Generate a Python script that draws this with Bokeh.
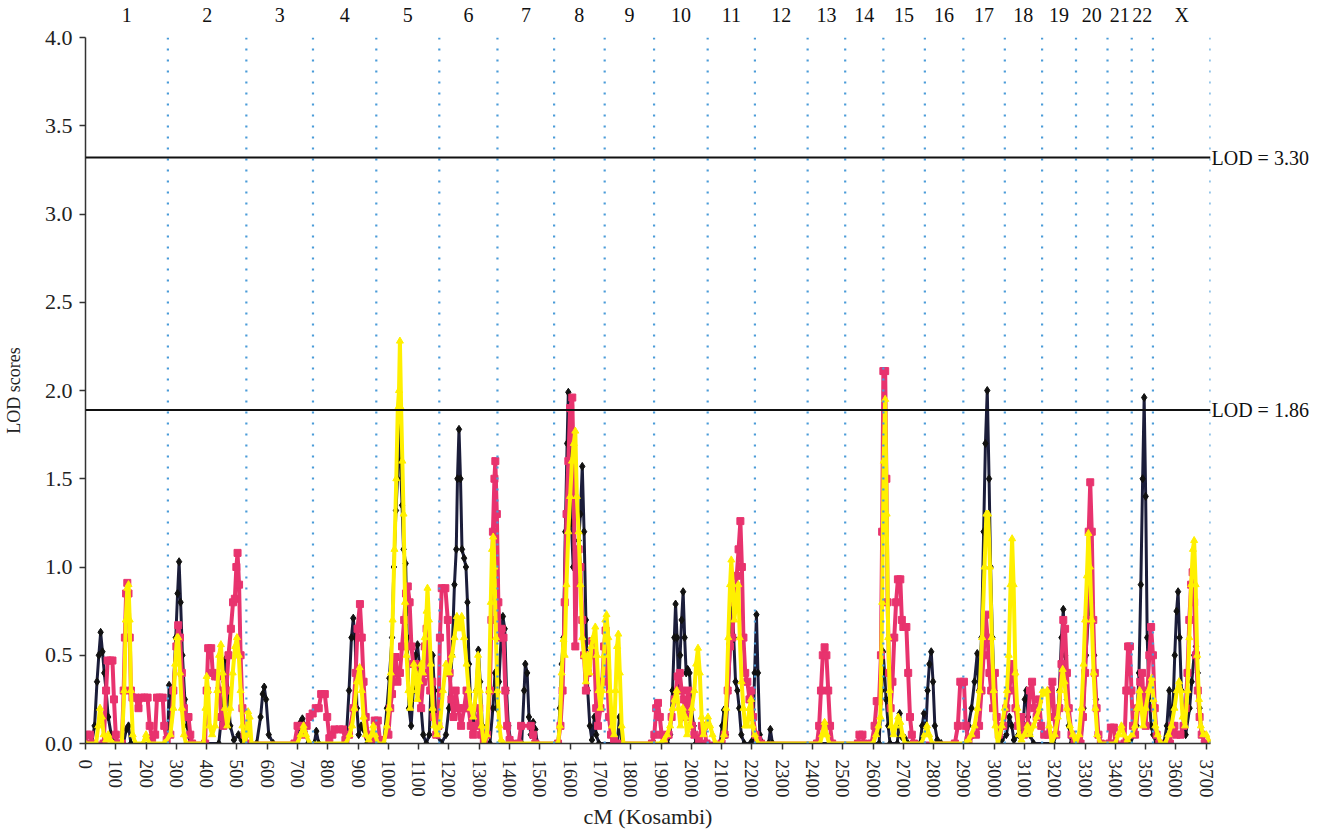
from bokeh.plotting import figure
from bokeh.models import Span, LinearAxis, FixedTicker, NumeralTickFormatter, Range1d
from bokeh.embed import file_html
from bokeh.resources import INLINE

# ---------------- data ----------------
chrom_names = ["1", "2", "3", "4", "5", "6", "7", "8", "9", "10", "11", "12",
               "13", "14", "15", "16", "17", "18", "19", "20", "21", "22", "X"]
chrom_ends = [272, 531, 751, 960, 1168, 1360, 1547, 1714, 1877, 2054, 2210, 2384,
              2508, 2634, 2771, 2898, 3035, 3158, 3270, 3374, 3454, 3524, 3714]

threshold_values = [3.32, 1.89]
threshold_labels = ["LOD = 3.30", "LOD = 1.86"]

x_ticks = list(range(0, 3800, 100))
y_ticks = [0.0, 0.5, 1.0, 1.5, 2.0, 2.5, 3.0, 3.5, 4.0]

black_points = [
    (0, 0), (20, 0), (30, 0.1), (38, 0.35), (44, 0.5), (50, 0.63), (56, 0.52), (62, 0.4), (68, 0.3),
    (75, 0.15), (85, 0.05), (95, 0), (125, 0), (135, 0.08), (142, 0.1), (150, 0), (265, 0),
    (272, 0.05), (276, 0.33), (282, 0.15), (290, 0.3), (298, 0.6), (304, 0.85), (309, 1.03), (314, 0.8),
    (320, 0.5), (328, 0.25), (336, 0.1), (345, 0), (440, 0), (452, 0.2), (458, 0.35), (463, 0.48),
    (470, 0.3), (478, 0.1), (490, 0.02), (505, 0.05), (515, 0.02), (530, 0),
    (565, 0), (578, 0.15), (585, 0.28), (590, 0.32), (596, 0.25), (605, 0.05), (620, 0), (700, 0),
    (710, 0.12), (716, 0.14), (724, 0.1), (735, 0), (755, 0), (762, 0.07), (770, 0),
    (860, 0), (870, 0.3), (878, 0.6), (884, 0.71), (890, 0.6), (896, 0.2), (902, 0.05), (910, 0.1),
    (918, 0.08), (930, 0),
    (985, 0), (995, 0.2), (1003, 0.37), (1012, 0.6), (1018, 1.0), (1025, 1.32), (1030, 1.5), (1035, 1.9),
    (1040, 1.6), (1045, 1.35), (1050, 1.1), (1057, 1.02), (1062, 0.6), (1068, 0.2), (1075, 0.1),
    (1082, 0.3), (1090, 0.5), (1096, 0.56), (1102, 0.45), (1108, 0.2), (1115, 0.05), (1125, 0),
    (1135, 0.05), (1140, 0.3), (1146, 0.5), (1152, 0.3), (1160, 0.05), (1175, 0),
    (1190, 0.05), (1200, 0.2), (1210, 0.5), (1218, 0.9), (1224, 1.1), (1228, 1.5), (1233, 1.78),
    (1238, 1.5), (1243, 1.1), (1250, 1.05), (1256, 1.0), (1261, 0.8), (1266, 0.45), (1272, 0.2),
    (1280, 0.1), (1290, 0.3), (1297, 0.53), (1303, 0.35), (1310, 0.1), (1320, 0), (1335, 0),
    (1345, 0.2), (1352, 0.4), (1358, 0.2), (1365, 0.35), (1372, 0.6), (1378, 0.72), (1384, 0.65),
    (1390, 0.3), (1396, 0.1), (1405, 0),
    (1440, 0), (1448, 0.3), (1452, 0.45), (1458, 0.4), (1464, 0.15), (1470, 0.05), (1478, 0.12),
    (1485, 0.08), (1492, 0),
    (1560, 0), (1566, 0.2), (1572, 0.45), (1578, 0.6), (1584, 1.2), (1590, 1.7), (1594, 1.99),
    (1599, 1.6), (1604, 1.25), (1610, 1.0), (1616, 1.1), (1622, 0.9), (1628, 1.15), (1634, 1.3),
    (1640, 1.57), (1646, 1.2), (1652, 0.7), (1658, 0.3), (1665, 0.1), (1672, 0.02), (1680, 0.15),
    (1686, 0.05), (1695, 0), (1755, 0), (1763, 0.15), (1770, 0),
    (1920, 0), (1930, 0.05), (1938, 0.3), (1944, 0.6), (1948, 0.79), (1953, 0.6), (1958, 0.3),
    (1963, 0.5), (1968, 0.7), (1973, 0.86), (1978, 0.6), (1983, 0.4), (1988, 0.42), (1994, 0.4),
    (2000, 0.2), (2008, 0.1), (2015, 0),
    (2095, 0), (2102, 0.1), (2108, 0.19), (2114, 0.05), (2122, 0.3), (2130, 0.6), (2135, 0.78),
    (2140, 0.6), (2146, 0.35), (2152, 0.3), (2158, 0.2), (2165, 0.05), (2175, 0), (2195, 0),
    (2203, 0.02), (2209, 0.4), (2215, 0.73), (2220, 0.4), (2226, 0.05), (2235, 0), (2255, 0),
    (2261, 0.08), (2268, 0),
    (2620, 0), (2628, 0.3), (2633, 0.52), (2638, 0.4), (2643, 0.25), (2650, 0.1), (2656, 0),
    (2680, 0), (2688, 0.17), (2694, 0.04), (2705, 0.03), (2715, 0),
    (2755, 0), (2762, 0.1), (2768, 0.17), (2775, 0.1), (2780, 0.3), (2786, 0.45), (2792, 0.52),
    (2798, 0.35), (2804, 0.1), (2812, 0.02), (2825, 0),
    (2905, 0), (2915, 0.1), (2925, 0.2), (2935, 0.35), (2944, 0.51), (2950, 0.3), (2958, 0.6),
    (2965, 1.2), (2971, 1.7), (2977, 2.0), (2983, 1.5), (2988, 1.0), (2994, 0.6), (3000, 0.3),
    (3006, 0.15), (3015, 0.05), (3025, 0.02), (3040, 0.05), (3050, 0.15), (3058, 0.1), (3065, 0.02),
    (3080, 0.05), (3095, 0.1), (3101, 0.25), (3106, 0.3), (3112, 0.15), (3118, 0.05), (3130, 0),
    (3195, 0), (3205, 0.05), (3215, 0.3), (3222, 0.6), (3228, 0.76), (3234, 0.5), (3240, 0.25),
    (3246, 0.1), (3255, 0), (3285, 0), (3295, 0.2), (3303, 0.5), (3310, 0.7), (3318, 0.95),
    (3324, 0.7), (3330, 0.5), (3336, 0.25), (3342, 0.05), (3350, 0),
    (3450, 0), (3460, 0.05), (3470, 0.1), (3478, 0.4), (3484, 0.9), (3490, 1.5), (3495, 1.96),
    (3500, 1.4), (3505, 0.6), (3511, 0.3), (3518, 0.1), (3525, 0.05), (3535, 0),
    (3560, 0), (3570, 0.1), (3578, 0.3), (3584, 0.1), (3590, 0.2), (3596, 0.5), (3602, 0.75),
    (3607, 0.86), (3612, 0.6), (3618, 0.3), (3625, 0.1), (3632, 0.05), (3645, 0.2), (3652, 0.35),
    (3660, 0.5), (3666, 0.55), (3672, 0.4), (3678, 0.2), (3685, 0.05), (3695, 0),
]

pink_points = [
    (0, 0), (5, 0.05), (15, 0.05), (22, 0), (60, 0), (68, 0.3), (73, 0.47), (82, 0.47), (89, 0.47),
    (94, 0.25), (100, 0.05), (105, 0), (120, 0), (126, 0.3), (130, 0.6), (134, 0.85), (138, 0.91),
    (142, 0.85), (146, 0.6), (150, 0.3), (155, 0.26), (165, 0.26), (175, 0.2), (185, 0.26), (195, 0.26),
    (205, 0.26), (212, 0.1), (220, 0.03), (230, 0.05), (236, 0.26), (245, 0.26), (255, 0.26), (260, 0.1),
    (268, 0.02),
    (280, 0.05), (290, 0.3), (300, 0.55), (306, 0.67), (312, 0.6), (318, 0.4), (325, 0.2), (332, 0.15),
    (340, 0.15), (346, 0.05), (352, 0), (395, 0), (400, 0.3), (405, 0.54), (415, 0.54), (420, 0.4),
    (428, 0.38), (436, 0.38), (442, 0.3), (448, 0.15), (455, 0.1), (465, 0.3), (472, 0.5), (480, 0.65),
    (487, 0.8), (493, 0.82), (498, 1.0), (502, 1.08), (507, 0.9), (512, 0.5), (518, 0.2), (525, 0.05),
    (532, 0),
    (690, 0), (700, 0.1), (712, 0.1), (720, 0.05), (730, 0.1), (740, 0.15), (750, 0.17), (760, 0.2),
    (770, 0.2), (778, 0.28), (790, 0.28), (798, 0.15), (805, 0.03), (815, 0.05), (822, 0.08), (838, 0.08),
    (850, 0.08), (858, 0.02), (870, 0.05), (885, 0.2), (892, 0.4), (898, 0.65), (906, 0.79), (912, 0.6),
    (918, 0.35), (925, 0.15), (932, 0.05), (945, 0.02), (955, 0.13), (965, 0.13), (972, 0.02),
    (1000, 0.05), (1006, 0.2), (1012, 0.28), (1018, 0.45), (1024, 0.49), (1030, 0.35), (1038, 0.4),
    (1045, 0.55), (1052, 0.7), (1058, 0.85), (1064, 0.89), (1070, 0.8), (1076, 0.55), (1082, 0.45),
    (1090, 0.45), (1096, 0.35), (1102, 0.3), (1108, 0.2), (1114, 0.35), (1120, 0.55), (1126, 0.65),
    (1132, 0.4), (1138, 0.3), (1145, 0.35), (1150, 0.15), (1158, 0.05),
    (1165, 0.1), (1170, 0.6), (1176, 0.88), (1188, 0.88), (1196, 0.7), (1202, 0.4), (1208, 0.25),
    (1215, 0.15), (1222, 0.3), (1230, 0.2), (1240, 0.1), (1250, 0.2), (1258, 0.3), (1265, 0.2),
    (1272, 0.1), (1280, 0.05), (1290, 0.1), (1300, 0.2), (1306, 0.05), (1315, 0.02), (1325, 0.05),
    (1335, 0.3), (1340, 0.7), (1345, 1.2), (1350, 1.5), (1353, 1.6), (1358, 1.3), (1363, 0.8),
    (1368, 0.6), (1374, 0.65), (1380, 0.6), (1386, 0.3), (1392, 0.1), (1400, 0.02), (1430, 0),
    (1438, 0.1), (1470, 0.1), (1478, 0.05), (1485, 0),
    (1560, 0), (1568, 0.1), (1575, 0.3), (1582, 0.8), (1588, 1.3), (1594, 1.6), (1600, 1.9),
    (1607, 1.96), (1612, 1.5), (1617, 0.55), (1622, 1.0), (1628, 1.1), (1634, 1.0), (1640, 0.7),
    (1646, 0.5), (1652, 0.3), (1658, 0.4), (1665, 0.5), (1673, 0.58), (1680, 0.5), (1686, 0.2),
    (1692, 0.1), (1700, 0.2), (1706, 0.35), (1712, 0.55), (1717, 0.64), (1722, 0.4), (1728, 0.15),
    (1735, 0.05), (1745, 0.02), (1755, 0),
    (1870, 0), (1878, 0.05), (1884, 0.2), (1890, 0.23), (1896, 0.15), (1902, 0.05), (1910, 0),
    (1925, 0.05), (1935, 0.15), (1945, 0.25), (1955, 0.38), (1962, 0.4), (1968, 0.3), (1975, 0.25),
    (1982, 0.15), (1990, 0.3), (1996, 0.2), (2002, 0.1), (2010, 0.05), (2025, 0.02), (2035, 0.1),
    (2042, 0.1), (2050, 0),
    (2100, 0), (2110, 0.05), (2120, 0.3), (2128, 0.55), (2135, 0.6), (2142, 0.8), (2150, 0.95),
    (2156, 1.1), (2162, 1.26), (2167, 1.0), (2172, 0.6), (2178, 0.4), (2185, 0.35), (2192, 0.25),
    (2198, 0.3), (2204, 0.15), (2212, 0.05), (2220, 0.02), (2230, 0),
    (2415, 0), (2422, 0.1), (2428, 0.3), (2434, 0.5), (2440, 0.545), (2446, 0.5), (2452, 0.3),
    (2458, 0.1), (2465, 0), (2550, 0), (2555, 0.05), (2565, 0.05), (2570, 0),
    (2595, 0), (2605, 0.1), (2612, 0.24), (2620, 0.24), (2626, 0.5), (2630, 1.2), (2634, 2.11),
    (2640, 2.11), (2644, 1.5), (2648, 0.8), (2653, 0.4), (2658, 0.2), (2664, 0.35), (2670, 0.6),
    (2676, 0.8), (2682, 0.93), (2690, 0.93), (2695, 0.7), (2700, 0.66), (2710, 0.66), (2716, 0.4),
    (2722, 0.15), (2728, 0.05), (2735, 0),
    (2870, 0), (2880, 0.1), (2888, 0.35), (2900, 0.35), (2906, 0.1), (2915, 0.02), (2940, 0.05),
    (2950, 0.1), (2958, 0.3), (2965, 0.5), (2972, 0.73), (2978, 0.6), (2984, 0.4), (2990, 0.3),
    (2996, 0.2), (3002, 0.4), (3008, 0.15), (3015, 0.05), (3030, 0.1), (3040, 0.2), (3050, 0.3),
    (3058, 0.45), (3064, 0.4), (3070, 0.2), (3078, 0.1), (3090, 0.15), (3098, 0.05), (3110, 0.1),
    (3118, 0.3), (3125, 0.35), (3132, 0.2), (3140, 0.15), (3148, 0.25), (3155, 0.1), (3165, 0.05),
    (3178, 0.05), (3186, 0.3), (3192, 0.35), (3198, 0.15), (3205, 0.05), (3215, 0.2), (3222, 0.45),
    (3228, 0.7), (3234, 0.65), (3240, 0.4), (3246, 0.2), (3255, 0.05), (3265, 0),
    (3285, 0), (3293, 0.15), (3300, 0.4), (3306, 0.7), (3312, 1.2), (3317, 1.48), (3322, 1.2),
    (3327, 0.7), (3332, 0.4), (3338, 0.2), (3344, 0.05), (3352, 0),
    (3380, 0), (3385, 0.09), (3395, 0.09), (3400, 0), (3430, 0), (3436, 0.3), (3442, 0.55),
    (3448, 0.55), (3453, 0.3), (3458, 0.1), (3465, 0.05), (3475, 0.2), (3482, 0.35), (3488, 0.4),
    (3494, 0.2), (3500, 0.1), (3506, 0.3), (3512, 0.5), (3518, 0.66), (3524, 0.5), (3530, 0.2),
    (3536, 0.05), (3545, 0),
    (3580, 0), (3588, 0.1), (3595, 0.1), (3602, 0.05), (3615, 0.05), (3625, 0.1), (3632, 0.2),
    (3638, 0.4), (3644, 0.7), (3650, 0.9), (3655, 0.97), (3660, 0.8), (3666, 0.5), (3672, 0.3),
    (3678, 0.15), (3685, 0.05), (3695, 0), (3714, 0),
]

yellow_points = [
    (0, 0), (35, 0), (42, 0.1), (48, 0.2), (54, 0.15), (60, 0.05), (68, 0.02), (75, 0.05), (82, 0.02),
    (90, 0), (120, 0), (128, 0.3), (133, 0.7), (138, 0.88), (142, 0.9), (146, 0.7), (150, 0.3),
    (156, 0.05), (165, 0), (190, 0), (200, 0.05), (210, 0), (260, 0),
    (280, 0.05), (290, 0.2), (296, 0.45), (302, 0.6), (306, 0.6), (312, 0.4), (318, 0.2), (325, 0.05),
    (332, 0), (390, 0), (396, 0.2), (400, 0.38), (405, 0.3), (410, 0.1), (418, 0.05), (428, 0.1),
    (435, 0.3), (441, 0.5), (447, 0.56), (453, 0.4), (460, 0.2), (468, 0.1), (478, 0.2), (486, 0.4),
    (494, 0.55), (500, 0.6), (506, 0.5), (512, 0.3), (518, 0.1), (525, 0), (532, 0.05), (537, 0.18),
    (542, 0.15), (548, 0),
    (700, 0), (710, 0.05), (720, 0.1), (728, 0.05), (740, 0), (860, 0), (872, 0.05), (880, 0.1),
    (888, 0.2), (896, 0.35), (905, 0.43), (912, 0.3), (918, 0.15), (925, 0.05), (935, 0.02),
    (945, 0.05), (950, 0.1), (956, 0.05), (965, 0),
    (985, 0), (995, 0.1), (1002, 0.2), (1008, 0.4), (1014, 0.7), (1020, 1.1), (1026, 1.5), (1031, 1.9),
    (1035, 2.0), (1038, 2.28), (1042, 1.9), (1046, 1.6), (1050, 1.3), (1055, 0.8), (1060, 0.5),
    (1066, 0.3), (1072, 0.2), (1078, 0.3), (1084, 0.45), (1090, 0.4), (1096, 0.25), (1102, 0.35),
    (1108, 0.45), (1114, 0.4), (1120, 0.6), (1126, 0.75), (1129, 0.88), (1134, 0.7), (1140, 0.45),
    (1146, 0.2), (1152, 0.1), (1160, 0.05),
    (1170, 0.1), (1180, 0.3), (1190, 0.45), (1200, 0.4), (1210, 0.5), (1218, 0.6), (1226, 0.72),
    (1234, 0.65), (1242, 0.72), (1250, 0.6), (1258, 0.45), (1265, 0.3), (1272, 0.2), (1280, 0.15),
    (1290, 0.3), (1296, 0.5), (1302, 0.3), (1308, 0.1), (1315, 0), (1325, 0.05), (1332, 0.3),
    (1338, 0.8), (1342, 1.1), (1346, 1.17), (1350, 1.0), (1355, 0.6), (1360, 0.3), (1366, 0.1),
    (1372, 0.02), (1380, 0), (1560, 0),
    (1566, 0.1), (1572, 0.4), (1578, 0.59), (1582, 0.5), (1588, 0.9), (1594, 1.2), (1600, 1.4),
    (1606, 1.6), (1612, 1.7), (1617, 1.77), (1622, 1.4), (1628, 1.2), (1634, 0.9), (1640, 0.6),
    (1646, 0.5), (1652, 0.35), (1658, 0.5), (1664, 0.4), (1670, 0.55), (1676, 0.6), (1683, 0.66),
    (1688, 0.5), (1694, 0.3), (1700, 0.2), (1706, 0.3), (1712, 0.5), (1716, 0.7), (1720, 0.73),
    (1726, 0.6), (1732, 0.3), (1738, 0.1), (1745, 0.05), (1750, 0.3), (1755, 0.55), (1759, 0.62),
    (1764, 0.4), (1770, 0.1), (1776, 0),
    (1900, 0), (1910, 0.02), (1920, 0.05), (1930, 0.1), (1938, 0.2), (1945, 0.25), (1952, 0.3),
    (1958, 0.2), (1964, 0.1), (1972, 0.2), (1980, 0.15), (1986, 0.05), (1995, 0.1), (2002, 0.2),
    (2010, 0.3), (2016, 0.45), (2022, 0.54), (2028, 0.4), (2034, 0.15), (2040, 0.05), (2048, 0.1),
    (2055, 0.15), (2062, 0.1), (2070, 0.05), (2080, 0),
    (2100, 0), (2108, 0.05), (2115, 0.2), (2122, 0.6), (2128, 0.9), (2132, 1.04), (2137, 0.9),
    (2142, 0.7), (2148, 0.8), (2155, 0.9), (2160, 0.6), (2166, 0.35), (2172, 0.2), (2178, 0.1),
    (2185, 0.1), (2192, 0.2), (2197, 0.25), (2202, 0.1), (2210, 0.05), (2220, 0),
    (2425, 0), (2432, 0.05), (2440, 0.12), (2447, 0.05), (2455, 0),
    (2600, 0), (2610, 0.05), (2618, 0.1), (2624, 0.15), (2630, 0.8), (2635, 1.6), (2640, 1.95),
    (2645, 1.3), (2650, 0.6), (2655, 0.3), (2660, 0.1), (2668, 0.05), (2675, 0.1), (2683, 0.15),
    (2690, 0.12), (2697, 0.05), (2705, 0),
    (2760, 0), (2770, 0.05), (2778, 0.1), (2785, 0.05), (2795, 0),
    (2905, 0), (2915, 0.02), (2925, 0.05), (2935, 0.1), (2945, 0.2), (2952, 0.3), (2960, 0.6),
    (2968, 1.0), (2974, 1.3), (2980, 1.3), (2986, 1.0), (2992, 0.6), (2998, 0.3), (3004, 0.1),
    (3012, 0), (3025, 0.1), (3035, 0.2), (3042, 0.3), (3048, 0.5), (3054, 0.9), (3059, 1.16),
    (3064, 0.9), (3070, 0.4), (3076, 0.2), (3082, 0.05), (3090, 0.02), (3100, 0.05), (3110, 0.1),
    (3118, 0.05), (3130, 0.1), (3140, 0.15), (3150, 0.2), (3160, 0.3), (3168, 0.28), (3175, 0.3),
    (3182, 0.1), (3190, 0), (3200, 0.05), (3210, 0.15), (3218, 0.3), (3226, 0.42), (3232, 0.35),
    (3240, 0.2), (3250, 0.1), (3260, 0.05), (3270, 0),
    (3280, 0.05), (3288, 0.2), (3295, 0.45), (3300, 0.7), (3306, 0.95), (3311, 1.19), (3316, 1.0),
    (3322, 0.7), (3328, 0.4), (3334, 0.2), (3340, 0.05), (3350, 0),
    (3400, 0), (3410, 0.05), (3420, 0.1), (3428, 0.05), (3440, 0.02), (3455, 0.05), (3465, 0.1),
    (3472, 0.2), (3480, 0.3), (3486, 0.2), (3492, 0.1), (3500, 0.2), (3510, 0.3), (3520, 0.37),
    (3526, 0.25), (3532, 0.1), (3540, 0.05), (3550, 0),
    (3565, 0), (3575, 0.05), (3585, 0.1), (3595, 0.2), (3603, 0.3), (3610, 0.35), (3616, 0.3),
    (3622, 0.15), (3630, 0.1), (3638, 0.3), (3644, 0.6), (3650, 0.9), (3656, 1.1), (3660, 1.15),
    (3665, 0.9), (3670, 0.5), (3676, 0.25), (3682, 0.1), (3690, 0.05), (3700, 0.05), (3714, 0),
]

# ---------------- figure ----------------
FONT = "Liberation Serif"
x_max = chrom_ends[-1]

p = figure(frame_width=1125, frame_height=706,
           x_range=Range1d(0, x_max), y_range=Range1d(0, 4.0),
           output_backend="svg", toolbar_location=None,
           min_border_left=83, min_border_right=10, min_border_top=29, min_border_bottom=20)
p.outline_line_color = None
p.grid.visible = False
p.background_fill_color = "white"

# chromosome boundaries
for b in chrom_ends:
    p.add_layout(Span(location=b, dimension="height", line_color="#4a9bd8",
                      line_dash="2 9", line_width=2.2))

# threshold lines
for v in threshold_values:
    p.add_layout(Span(location=v, dimension="width", line_color="#111111", line_width=2))

def split(pts):
    return [a for a, _ in pts], [b for _, b in pts]

bx, by = split(black_points)
px_, py_ = split(pink_points)
yx, yy = split(yellow_points)

p.line(bx, by, line_color="#1b1d3a", line_width=3)
p.scatter(bx, by, marker="diamond", size=8, fill_color="#111111", line_color="#111111")
p.line(px_, py_, line_color="#e8336e", line_width=4)
p.scatter(px_, py_, marker="square", size=7, fill_color="#e8336e", line_color="#e8336e")
p.line(yx, yy, line_color="#fff000", line_width=4)
p.scatter(yx, yy, marker="triangle", size=7, fill_color="#fff000", line_color="#fff000")

# axes
xa = p.xaxis[0]
xa.ticker = FixedTicker(ticks=x_ticks)
xa.major_label_orientation = "vertical"
xa.axis_label = "cM (Kosambi)"
ya = p.yaxis[0]
ya.ticker = FixedTicker(ticks=y_ticks)
ya.formatter = NumeralTickFormatter(format="0.0")
ya.axis_label = "LOD scores"

for ax in (xa, ya):
    ax.axis_line_color = "#333333"
    ax.axis_line_width = 1.5
    ax.major_tick_line_color = "#333333"
    ax.major_tick_line_width = 1.5
    ax.major_tick_in = 0
    ax.major_tick_out = 6
    ax.minor_tick_line_color = None
    ax.major_label_text_font = FONT
    ax.major_label_text_color = "#222222"
    ax.axis_label_text_font = FONT
    ax.axis_label_text_font_style = "normal"
    ax.axis_label_text_color = "#222222"

xa.major_label_text_font_size = "19px"
xa.major_label_standoff = 10
xa.axis_label_text_font_size = "22px"
xa.axis_label_standoff = 3
ya.major_label_text_font_size = "22px"
ya.major_label_standoff = 7
ya.axis_label_text_font_size = "18px"
ya.axis_label_standoff = 18

# chromosome labels on top
starts = [0] + chrom_ends[:-1]
mids = [int(round((s + e) / 2)) for s, e in zip(starts, chrom_ends)]
top = LinearAxis(ticker=FixedTicker(ticks=mids),
                 major_label_overrides={m: n for m, n in zip(mids, chrom_names)})
top.axis_line_color = None
top.major_tick_line_color = None
top.minor_tick_line_color = None
top.major_label_standoff = 6
top.major_label_text_font = FONT
top.major_label_text_font_size = "20px"
top.major_label_text_color = "#111111"
p.add_layout(top, "above")

# threshold labels on the right
right = LinearAxis(ticker=FixedTicker(ticks=threshold_values),
                   major_label_overrides={v: t for v, t in zip(threshold_values, threshold_labels)})
right.axis_line_color = None
right.major_tick_line_color = None
right.minor_tick_line_color = None
right.major_tick_out = 0
right.major_tick_in = 0
right.major_label_standoff = 1
right.major_label_text_font = FONT
right.major_label_text_font_size = "20px"
right.major_label_text_color = "#111111"
p.add_layout(right, "right")

open("out.html", "w").write(file_html(p, INLINE))
